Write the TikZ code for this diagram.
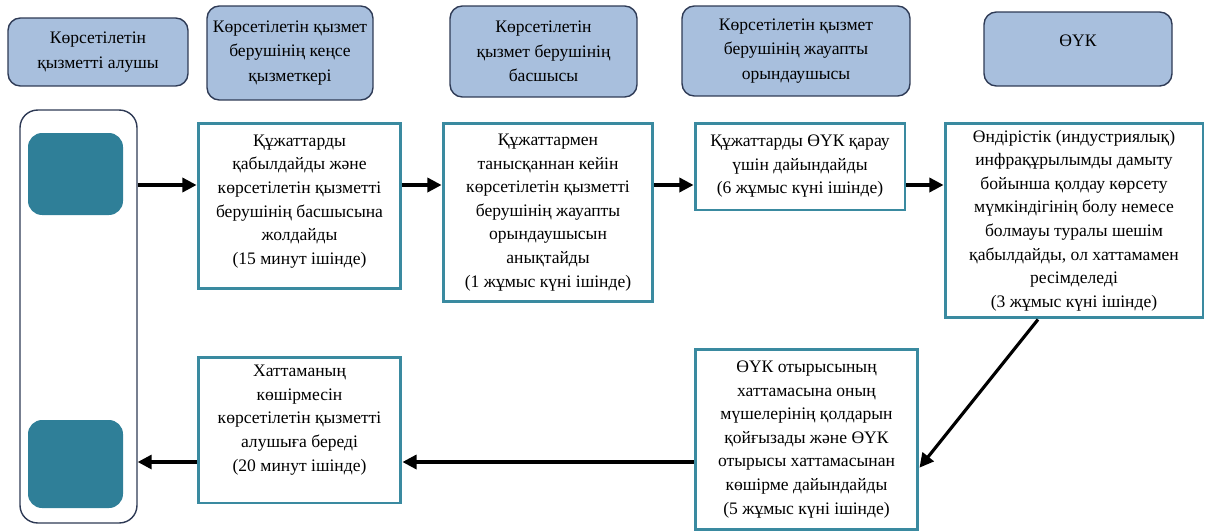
\documentclass[tikz,border=0pt]{standalone}
\usepackage{fontspec}
\setmainfont{Liberation Serif}
\usetikzlibrary{arrows.meta}

\definecolor{headblue}{HTML}{A8BFDD}
\definecolor{headline}{HTML}{2E3A55}
\definecolor{stepline}{HTML}{3A8AA0}
\definecolor{tealbox}{HTML}{2F7F98}

\begin{document}
\begin{tikzpicture}[x=0.02cm,y=-0.02cm,
    every node/.style={font=\rmfamily\fontsize{10}{13.4}\selectfont,align=center,inner sep=0pt},
    head/.style={draw=headline,fill=headblue,rounded corners=7pt,line width=0.8pt,
      font=\rmfamily\fontsize{10}{14}\selectfont},
    stepbox/.style={draw=stepline,line width=1.7pt},
    flow/.style={-{Triangle[length=8pt,width=8pt]},line width=1.8pt}]
      \useasboundingbox (0,0) rectangle (1206,531);
      % header row
      \node[head,minimum width=3.6cm,minimum height=1.36cm] (h1) at (98,52)
        {Көрсетілетін\\қызметті алушы};
      \node[head,minimum width=3.32cm,minimum height=1.88cm] (h2) at (290,53)
        {Көрсетілетін қызмет\\берушінің кеңсе\\қызметкері};
      \node[head,minimum width=3.74cm,minimum height=1.82cm] (h3) at (543.5,51.5)
        {Көрсетілетін\\қызмет берушінің\\басшысы};
      \node[head,minimum width=4.56cm,minimum height=1.8cm] (h4) at (796,51)
        {Көрсетілетін қызмет\\берушінің жауапты\\орындаушысы};
      \node[head,minimum width=3.76cm,minimum height=1.48cm] (h5) at (1078,49)
        {ӨҮК\\[-5pt]~};
      % service receiver column
      \node[draw=headline,line width=0.8pt,rounded corners=10pt,
        minimum width=2.34cm,minimum height=8.26cm] (client) at (78.5,316.5) {};
      \foreach \y/\h in {133/215,420/508}
        \fill[tealbox,rounded corners=8pt] (28,\y) rectangle (123,\h);
      % steps
      \node[stepbox,minimum width=4.06cm,minimum height=3.32cm] (A) at (299.5,206)
        {Құжаттарды\\қабылдайды және\\көрсетілетін қызметті\\берушінің басшысына\\жолдайды\\(15 минут ішінде)\\[-6pt]~};
      \node[stepbox,minimum width=4.2cm,minimum height=3.58cm] (B) at (548,212.5)
        {Құжаттармен\\танысқаннан кейін\\көрсетілетін қызметті\\берушінің жауапты\\орындаушысын\\анықтайды\\(1 жұмыс күні ішінде)};
      \node[stepbox,minimum width=4.2cm,minimum height=1.74cm] (C) at (800,166.5)
        {Құжаттарды ӨҮК қарау\\үшін дайындайды\\(6 жұмыс күні ішінде)};
      \node[stepbox,minimum width=5.16cm,minimum height=3.9cm] (D) at (1074,220.5)
        {Өндірістік (индустриялық)\\инфрақұрылымды дамыту\\бойынша қолдау көрсету\\мүмкіндігінің болу немесе\\болмауы туралы шешім\\қабылдайды, ол хаттамамен\\ресімделеді\\(3 жұмыс күні ішінде)};
      \node[stepbox,minimum width=4.46cm,minimum height=3.62cm] (E) at (806.5,439.5)
        {ӨҮК отырысының\\хаттамасына оның\\мүшелерінің қолдарын\\қойғызады және ӨҮК\\отырысы хаттамасынан\\көшірме дайындайды\\(5 жұмыс күні ішінде)};
      \node[stepbox,minimum width=4.06cm,minimum height=2.92cm] (F) at (299.5,430)
        {Хаттаманың\\көшірмесін\\көрсетілетін қызметті\\алушыға береді\\(20 минут ішінде)\\~};
      % arrows
      \coordinate (row1) at (0,185);
      \coordinate (row2) at (0,462);
      \draw[flow] (client.east |- row1) -- (A.west |- row1);
      \draw[flow] (A.east |- row1) -- (B.west |- row1);
      \draw[flow] (B.east |- row1) -- (C.west |- row1);
      \draw[flow] (C.east |- row1) -- (D.west |- row1);
      \draw[flow] (D.250) -- (E.-14);
      \draw[flow] (E.west |- row2) -- (F.east |- row2);
      \draw[flow] (F.west |- row2) -- (client.east |- row2);
    \end{tikzpicture}
\end{document}
